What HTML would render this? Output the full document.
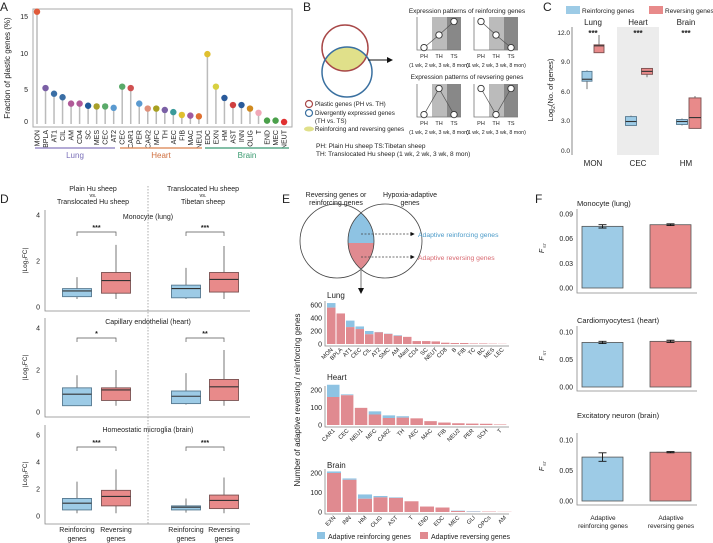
<!DOCTYPE html>
<html><head><meta charset="utf-8"><style>
html,body{margin:0;padding:0;background:#fff}
svg{display:block;font-family:"Liberation Sans",Arial,sans-serif}
</style></head><body>
<svg id="s" width="713" height="543" viewBox="0 0 713 543" xmlns="http://www.w3.org/2000/svg" font-size="7" fill="#222">
<!-- Panel letters -->
<text x="0" y="11" font-size="12">A</text>
<text x="303" y="11" font-size="12">B</text>
<text x="543" y="11" font-size="12">C</text>
<text x="0" y="203" font-size="12">D</text>
<text x="282" y="203" font-size="12">E</text>
<text x="535" y="203" font-size="12">F</text>

<!-- A -->
<rect x="33" y="9" width="259" height="118" fill="none" stroke="#aaa" stroke-width="1"/>
<text x="10" y="68" transform="rotate(-90 10 68)" text-anchor="middle" font-size="8">Fraction of plastic genes (%)</text>
<g font-size="7" text-anchor="end">
<text x="28" y="19">15</text><text x="28" y="56">10</text><text x="28" y="92">5</text><text x="28" y="124">0</text>
</g>
<g id="A"></g>
<line x1="35" y1="148" x2="115" y2="148" stroke="#9b8fc9" stroke-width="1.5"/>
<line x1="120" y1="148" x2="202" y2="148" stroke="#e0956a" stroke-width="1.5"/>
<line x1="205" y1="148" x2="289" y2="148" stroke="#5aaa8a" stroke-width="1.5"/>
<text x="75" y="158" text-anchor="middle" fill="#7a6fb9" font-size="8">Lung</text>
<text x="161" y="158" text-anchor="middle" fill="#d07040" font-size="8">Heart</text>
<text x="247" y="158" text-anchor="middle" fill="#3a9a70" font-size="8">Brain</text>

<!-- B -->
<defs><clipPath id="cb"><circle cx="347" cy="72" r="25"/></clipPath>
<clipPath id="ce"><circle cx="385" cy="241" r="37"/></clipPath>
<clipPath id="cl"><circle cx="337" cy="241" r="37"/></clipPath>
<marker id="ar" markerWidth="6" markerHeight="6" refX="5" refY="3" orient="auto"><path d="M0,0L6,3L0,6z" fill="#111"/></marker></defs>
<circle cx="345" cy="48" r="23" fill="#e0e08a" clip-path="url(#cb)"/>
<circle cx="345" cy="48" r="23" fill="none" stroke="#a84848" stroke-width="1.5"/>
<circle cx="347" cy="72" r="25" fill="none" stroke="#3a70a0" stroke-width="1.5"/>
<line x1="368" y1="60" x2="392" y2="60" stroke="#111" stroke-width="1" marker-end="url(#ar)"/>
<circle cx="309" cy="104" r="3.5" fill="none" stroke="#a84848" stroke-width="1.2"/>
<circle cx="309" cy="113" r="3.5" fill="none" stroke="#3a70a0" stroke-width="1.2"/>
<ellipse cx="309" cy="129" rx="5" ry="2.5" fill="#e0e08a"/>
<g font-size="6.2">
<text x="315" y="106">Plastic genes (PH vs. TH)</text>
<text x="315" y="115">Divergently expressed genes</text>
<text x="315" y="123">(TH vs. TS)</text>
<text x="315" y="131">Reinforcing and reversing genes</text>
<text x="316" y="148" font-size="6.5">PH: Plain Hu sheep    TS:Tibetan sheep</text>
<text x="316" y="156" font-size="6.5">TH:  Translocated Hu sheep (1 wk, 2 wk, 3 wk, 8 mon)</text>
<text x="467" y="13" text-anchor="middle" font-size="6.5">Expression patterns of reinforcing genes</text>
<text x="467" y="79" text-anchor="middle" font-size="6.5">Expression patterns of revsering genes</text>
</g>
<g id="B"></g>

<!-- C -->
<rect x="566" y="6" width="14" height="8" fill="#9dcbe6"/>
<text x="582" y="13" font-size="6.5">Reinforcing genes</text>
<rect x="649" y="6" width="14" height="8" fill="#e88a8a"/>
<text x="665" y="13" font-size="6.5">Reversing genes</text>
<rect x="617" y="27" width="42" height="128" fill="#ececec"/>
<line x1="572" y1="27" x2="572" y2="155" stroke="#888"/>
<g font-size="6.5" text-anchor="end">
<text x="570" y="35">12.0</text><text x="570" y="64">9.0</text><text x="570" y="94">6.0</text><text x="570" y="123">3.0</text><text x="570" y="153">0.0</text>
</g>
<text x="553" y="90" transform="rotate(-90 553 90)" text-anchor="middle" font-size="7.5">Log<tspan font-size="5" dy="2">2</tspan><tspan dy="-2">(No. of genes)</tspan></text>
<g font-size="8" text-anchor="middle">
<text x="593" y="25">Lung</text><text x="638" y="25">Heart</text><text x="686" y="25">Brain</text>
<text x="593" y="166">MON</text><text x="638" y="166">CEC</text><text x="686" y="166">HM</text>
</g>
<g font-size="8" text-anchor="middle" font-weight="bold">
<text x="593" y="36">***</text><text x="638" y="36">***</text><text x="686" y="36">***</text>
</g>
<g id="C"></g>

<!-- D -->
<g font-size="7" text-anchor="middle">
<text x="93" y="191">Plain Hu sheep</text><text x="93" y="197" font-size="5.5">vs.</text><text x="93" y="204">Translocated Hu sheep</text>
<text x="203" y="191">Translocated Hu sheep</text><text x="203" y="197" font-size="5.5">vs.</text><text x="203" y="204">Tibetan sheep</text>
<text x="148" y="219">Monocyte (lung)</text>
<text x="148" y="324">Capillary endothelial (heart)</text>
<text x="148" y="432">Homeostatic microglia (brain)</text>
<text x="77" y="532">Reinforcing</text><text x="77" y="541">genes</text>
<text x="116" y="532">Reversing</text><text x="116" y="541">genes</text>
<text x="186" y="532">Reinforcing</text><text x="186" y="541">genes</text>
<text x="224" y="532">Reversing</text><text x="224" y="541">genes</text>
</g>
<line x1="148" y1="186" x2="148" y2="525" stroke="#999" stroke-dasharray="1.5,1.5" stroke-width="0.8"/>
<g id="D"></g>

<!-- E -->
<g font-size="7" text-anchor="middle">
<text x="336" y="197">Reversing genes or</text><text x="336" y="205">reinforcing genes</text>
<text x="410" y="197">Hypoxia-adaptive</text><text x="410" y="205">genes</text>
</g>
<g clip-path="url(#ce)"><g clip-path="url(#cl)">
<rect x="300" y="200" width="120" height="80" fill="#e08a90"/>
<rect x="300" y="200" width="120" height="43" fill="#8ec3e3"/>
</g></g>
<circle cx="337" cy="241" r="37" fill="none" stroke="#444" stroke-width="0.8"/>
<circle cx="385" cy="241" r="37" fill="none" stroke="#444" stroke-width="0.8"/>
<line x1="361" y1="234" x2="414" y2="234" stroke="#444" stroke-dasharray="2,1.5" stroke-width="0.7" marker-end="url(#ar)"/>
<line x1="361" y1="257" x2="414" y2="257" stroke="#444" stroke-dasharray="2,1.5" stroke-width="0.7" marker-end="url(#ar)"/>
<text x="418" y="237" fill="#4a9ac8" font-size="6.8">Adaptive reinforcing genes</text>
<text x="418" y="260" fill="#d86870" font-size="6.8">Adaptive reversing genes</text>
<line x1="361" y1="268" x2="361" y2="293" stroke="#777" stroke-width="1" marker-end="url(#ar)"/>
<text x="300" y="400" transform="rotate(-90 300 400)" text-anchor="middle" font-size="8">Number of adaptive reversing / reinforcing genes</text>
<g font-size="8"><text x="327" y="298">Lung</text><text x="327" y="380">Heart</text><text x="327" y="468">Brain</text></g>
<rect x="317" y="532" width="8" height="7" fill="#8ec3e3"/>
<text x="328" y="539" font-size="7">Adaptive reinforcing genes</text>
<rect x="420" y="532" width="8" height="7" fill="#e08a90"/>
<text x="431" y="539" font-size="7">Adaptive reversing genes</text>
<g id="E"></g>

<!-- F -->
<g font-size="7.5">
<text x="577" y="206">Monocyte (lung)</text>
<text x="577" y="323">Cardiomyocytes1 (heart)</text>
<text x="577" y="418">Excitatory neuron (brain)</text>
</g>
<g font-size="6.5" text-anchor="middle">
<text x="603" y="520">Adaptive</text><text x="603" y="528">reinforcing genes</text>
<text x="671" y="520">Adaptive</text><text x="671" y="528">reversing genes</text>
</g>
<g id="F"></g>
</svg>
<script>
const NS="http://www.w3.org/2000/svg";
function el(p,t,a,txt){const e=document.createElementNS(NS,t);for(const k in a)e.setAttribute(k,a[k]);if(txt!==undefined)e.textContent=txt;document.getElementById(p).appendChild(e);return e;}
// A
const names=["MON","BPLA","AT1","CIL","AM","CD4","SC","MES","CEC","AT2","CEC","CAR1","PER","CAR2","MFC","TH","AEC","FIB","MAC","NEU1","EDC","EXN","HM","AST","INN","OLIG","T","END","MEC","NEUT"];
const vals=[15.6,4.8,4.0,3.5,2.6,2.6,2.3,2.2,2.2,2.0,5.0,4.8,2.6,1.9,1.9,1.7,1.4,1.0,0.9,0.8,9.6,5.0,3.4,2.4,2.4,1.9,1.3,0.2,0.2,0.0];
const cols=["#e05a3a","#7a5fa5","#3a6ea5","#3a6ea5","#b05a98","#b05a98","#1f5a9a","#a8a02a","#5aaa6a","#5a9ad0","#5aaa6a","#d05050","#5a9ad0","#e0907a","#a8a020","#7a5fa5","#3a9a9a","#e0c030","#a05aa0","#e07030","#e0c030","#d8d040","#2a5a9a","#d04040","#2a5a9a","#d08a20","#f0a8b8","#4aa04a","#4aa04a","#e03030"];
for(let i=0;i<30;i++){const x=37+i*8.52,y=122-vals[i]*7.07;
el("A","line",{x1:x,y1:124,x2:x,y2:y,stroke:"#bbb","stroke-width":1.5});
el("A","circle",{cx:x,cy:y,r:3.2,fill:cols[i]});
el("A","text",{x:x+2.5,y:130,transform:`rotate(-90 ${x+2.5} 130)`,"text-anchor":"end","font-size":7},names[i]);}
// B mini plots
function mini(x0,y0,pts){el("B","rect",{x:x0+15,y:y0,width:15,height:33,fill:"#bbb"});el("B","rect",{x:x0+30,y:y0,width:14,height:33,fill:"#888"});
el("B","polyline",{points:`${x0},${y0} ${x0},${y0+33} ${x0+44},${y0+33}`,fill:"none",stroke:"#777","stroke-width":0.8});
const xs=[x0+7,x0+22,x0+37];const P=pts.map((v,i)=>[xs[i],y0+33-v*30]);
el("B","polyline",{points:P.map(p=>p.join(",")).join(" "),fill:"none",stroke:"#555","stroke-width":0.7});
P.forEach(p=>el("B","circle",{cx:p[0],cy:p[1],r:3.2,fill:"#fff",stroke:"#333","stroke-width":0.9}));
["PH","TH","TS"].forEach((t,i)=>el("B","text",{x:xs[i],y:y0+41,"text-anchor":"middle","font-size":5.5},t));
el("B","text",{x:x0+22,y:y0+50,"text-anchor":"middle","font-size":5.3},"(1 wk, 2 wk, 3 wk, 8 mon)");}
mini(417,17,[0.08,0.5,0.95]);mini(474,17,[0.95,0.5,0.08]);
mini(417,84,[0.08,0.95,0.08]);mini(474,84,[0.95,0.08,0.95]);
// box helper
function box(g,cx,w,Y,q1,q3,md,lo,hi,fill,st){el(g,"line",{x1:cx,x2:cx,y1:Y(lo),y2:Y(hi),stroke:"#555","stroke-width":0.8});
el(g,"rect",{x:cx-w/2,y:Y(q3),width:w,height:Y(q1)-Y(q3),fill:fill,stroke:st,"stroke-width":0.9});
el(g,"line",{x1:cx-w/2,x2:cx+w/2,y1:Y(md),y2:Y(md),stroke:"#333","stroke-width":1.1});}
const BF="#9dcbe6",BS="#55788f",RF="#e88a8a",RS="#7a5050";
// C
const YC=v=>151-v*9.83;
box("C",587,10,YC,7.1,8.1,7.3,6.3,8.2,BF,BS);box("C",599,10,YC,10.0,10.8,10.7,10.0,11.8,RF,RS);
box("C",631,11,YC,2.6,3.5,3.0,2.6,3.6,BF,BS);box("C",647,11,YC,7.8,8.4,8.1,7.5,8.4,RF,RS);
box("C",682,11,YC,2.7,3.2,3.0,2.6,3.3,BF,BS);box("C",695,12,YC,2.3,5.4,3.4,2.3,5.6,RF,RS);
// D
function dsub(top,bot,y0,scale,ticks,bry,stars,data){const Y=v=>y0-v*scale;
el("D","polyline",{points:`45,${top} 45,${bot} 250,${bot}`,fill:"none",stroke:"#888","stroke-width":0.8});
ticks.forEach(t=>el("D","text",{x:40,y:Y(t)+2.5,"text-anchor":"end","font-size":7},t));
el("D","text",{x:27,y:(top+bot)/2,transform:`rotate(-90 27 ${(top+bot)/2})`,"text-anchor":"middle","font-size":6.5},"|Log₂FC|");
[[77,116,0],[186,224,1]].forEach(b=>{el("D","polyline",{points:`${b[0]},${bry+4} ${b[0]},${bry} ${b[1]},${bry} ${b[1]},${bry+4}`,fill:"none",stroke:"#555","stroke-width":0.7});
el("D","text",{x:(b[0]+b[1])/2,y:bry-2,"text-anchor":"middle","font-size":7,"font-weight":"bold"},stars[b[2]]);});
const xs=[77,116,186,224];data.forEach((d,i)=>box("D",xs[i],29,Y,d[0],d[1],d[2],d[3],d[4],i%2?RF:BF,i%2?RS:BS));}
dsub(210,311,307,23,[0,2,4],232,["***","***"],[[.45,.8,.7,.35,1.3],[.6,1.5,1.15,.35,2.7],[.4,.95,.8,.35,1.7],[.65,1.5,1.2,.35,2.65]]);
dsub(318,417,412,21,[0,2,4],338,["*","**"],[[.3,1.15,.85,.3,1.75],[.55,1.15,1.05,.3,2.0],[.4,1.0,.75,.35,1.85],[.55,1.55,1.2,.3,2.95]]);
dsub(425,524,516,13.5,[0,2,4,6],447,["***","***"],[[.45,1.3,.95,.2,2.55],[.75,1.9,1.45,.2,3.45],[.45,.75,.65,.25,1.3],[.55,1.55,1.15,.2,2.85]]);
// E
function ebar(y0,sc,ticks,x0,sp,bw,labels,red,tot,axEnd){const Y=v=>y0-v*sc;
el("E","polyline",{points:`325,${Y(ticks[ticks.length-1])-4} 325,${y0+2} ${axEnd},${y0+2}`,fill:"none",stroke:"#888","stroke-width":0.8});
ticks.forEach(t=>el("E","text",{x:322,y:Y(t)+2.5,"text-anchor":"end","font-size":7},t));
labels.forEach((l,i)=>{const x=x0+i*sp;
if(tot[i]>red[i])el("E","rect",{x:x,y:Y(tot[i]),width:bw,height:(tot[i]-red[i])*sc,fill:"#8ec3e3"});
el("E","rect",{x:x,y:Y(red[i]),width:bw,height:red[i]*sc,fill:"#e08a90"});
const tx=x+bw/2+2,ty=y0+6;el("E","text",{x:tx,y:ty,transform:`rotate(-45 ${tx} ${ty})`,"text-anchor":"end","font-size":5.8},l);});}
ebar(344,0.065,[0,200,400,600],327,9.5,8.5,["MON","BPLA","AT1","CEC","CIL","AT2","SMC","AM","Mast","CD4","SC","NEUT","CD8","B","FIB","TC","BC","MES","LEC"],
[560,470,260,230,150,180,155,125,110,45,45,40,20,15,15,8,8,5,3],[630,470,360,270,200,185,160,135,110,45,45,40,20,15,15,8,8,5,3],509);
ebar(425,0.175,[0,100,200],327,13.9,12.5,["CAR1","CEC","NEU1","MFC","CAR2","TH","AEC","MAC","FIB","NEU2","PER","SCH","T"],
[160,170,98,60,40,42,38,22,14,10,8,7,3],[230,175,98,78,55,50,38,22,14,10,8,7,3],509);
ebar(512,0.195,[0,100,200],327,15.5,14,["EXN","INN","HM","OLIG","AST","T","END","EDC","MEC","GLI","OPCs","AM"],
[200,165,68,75,72,55,28,23,5,1,2,1],[208,172,90,82,75,55,28,23,7,4,2,1],509);
// F
function fsub(top,bot,y0,sc,ticks,dec,d){const Y=v=>y0-v*sc;
el("F","polyline",{points:`577,${top} 577,${bot} 697,${bot}`,fill:"none",stroke:"#888","stroke-width":0.8});
ticks.forEach(t=>el("F","text",{x:573,y:Y(t)+2.5,"text-anchor":"end","font-size":7},t.toFixed(dec)));
const my=(top+bot)/2;el("F","text",{x:544,y:my,transform:`rotate(-90 544 ${my})`,"text-anchor":"middle","font-size":7,"font-style":"italic"},"F");
el("F","text",{x:546,y:my-3,transform:`rotate(-90 546 ${my-3})`,"font-size":4},"ST");
[[582,BF],[650,RF]].forEach((b,i)=>{const v=d[i][0],e=d[i][1];
el("F","rect",{x:b[0],y:Y(v),width:41,height:v*sc,fill:b[1],stroke:"#555","stroke-width":0.8});
const cx=b[0]+20.5;el("F","path",{d:`M${cx-4},${Y(v+e)}H${cx+4}M${cx},${Y(v+e)}V${Y(v-e)}M${cx-4},${Y(v-e)}H${cx+4}`,stroke:"#111","stroke-width":0.9,fill:"none"});});}
fsub(209,293,288,822,[0,0.03,0.06,0.09],2,[[.075,.002],[.077,.001]]);
fsub(326,391,387,550,[0,0.05,0.10],2,[[.081,.002],[.083,.002]]);
fsub(433,505,501,610,[0,0.05,0.10],2,[[.072,.007],[.080,.001]]);
</script>
</body></html>
